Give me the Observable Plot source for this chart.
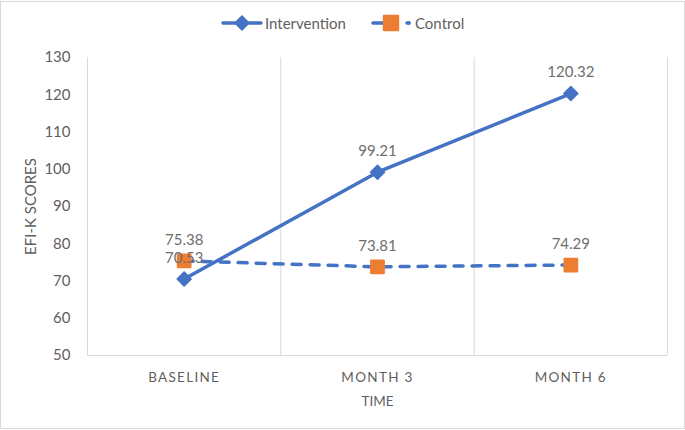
<!DOCTYPE html>
<html>
<head>
<meta charset="utf-8">
<script src="https://cdn.jsdelivr.net/npm/d3@7"></script>
<script src="https://cdn.jsdelivr.net/npm/@observablehq/plot@0.6"></script>
<style>
  html, body { margin: 0; padding: 0; background: #fff; }
  #chart { width: 685px; height: 430px; }
</style>
</head>
<body>
<div id="chart"></div>
<script>
const categories = ["BASELINE", "MONTH 3", "MONTH 6"];
const intervention = [70.53, 99.21, 120.32];
const control = [75.38, 73.81, 74.29];
const yTicks = [50, 60, 70, 80, 90, 100, 110, 120, 130];
const seriesNames = ["Intervention", "Control"];

const blue = "#4472C4";
const orange = "#ED7D31";
const grey = "#5f5f5f";
const labelGrey = "#6e6e6e";
const gridColor = "#d9d9d9";

const intRows = intervention.map((v, i) => ({i, v, s: seriesNames[0]}));
const ctlRows = control.map((v, i) => ({i, v, s: seriesNames[1]}));
const dividers = [-0.5, ...categories.map((_, i) => i + 0.5)];

const chart = Plot.plot({
  width: 685,
  height: 430,
  marginTop: 57,
  marginBottom: 75,
  marginLeft: 87,
  marginRight: 18,
  style: {fontFamily: "Lato, sans-serif", color: grey, background: "white", overflow: "visible"},
  x: {type: "linear", domain: [-0.5, categories.length - 0.5]},
  y: {domain: [50, 130]},
  marks: [
    Plot.ruleX(dividers, {x: d => d, y1: 50, y2: 130, stroke: gridColor, strokeWidth: 1}),
    Plot.ruleY([50], {stroke: gridColor, strokeWidth: 1}),
    Plot.axisY({ticks: yTicks, tickSize: 0, tickPadding: 17, fontSize: 15,
      label: "EFI-K SCORES", labelAnchor: "center", labelOffset: 62, labelArrow: "none"}),
    Plot.axisX({ticks: categories.map((_, i) => i), tickFormat: i => categories[i],
      tickSize: 0, tickPadding: 17, fontSize: 13.5,
      label: "TIME", labelAnchor: "center", labelOffset: 50, labelArrow: "none"}),
    Plot.line(ctlRows, {x: "i", y: "v", stroke: blue, strokeWidth: 3.5,
      strokeDasharray: "9,9", strokeLinecap: "round"}),
    Plot.line(intRows, {x: "i", y: "v", stroke: blue, strokeWidth: 3.5, strokeLinecap: "round"}),
    Plot.dot(intRows, {x: "i", y: "v", symbol: "diamond2", r: 6.3, fill: blue,
      stroke: blue, strokeWidth: 1.5, strokeLinejoin: "round"}),
    Plot.dot(ctlRows, {x: "i", y: "v", symbol: "square", r: 7.2, fill: orange,
      stroke: orange, strokeWidth: 2, strokeLinejoin: "round"}),
    Plot.text([...ctlRows, ...intRows], {x: "i", y: "v", text: d => d.v.toFixed(2),
      dy: -21, fill: labelGrey, fontSize: 15})
  ]
});

document.getElementById("chart").appendChild(chart);

// decoration: letter spacing for category labels, outer border, legend
const svg = d3.select(chart);
svg.selectAll("[aria-label='x-axis tick label'] text").attr("letter-spacing", "1.3px");

svg.append("rect")
  .attr("x", 0.5).attr("y", 1.5).attr("width", 684).attr("height", 427)
  .attr("fill", "none").attr("stroke", gridColor);

const lg = svg.append("g").attr("font-family", "Lato, sans-serif").attr("font-size", 15)
  .attr("fill", grey).attr("text-anchor", "start");
// Intervention
lg.append("line").attr("x1", 223).attr("x2", 261).attr("y1", 23).attr("y2", 23)
  .attr("stroke", blue).attr("stroke-width", 3.5).attr("stroke-linecap", "round");
lg.append("path").attr("d", d3.symbol(d3.symbolDiamond2, 6.3 * 6.3 * Math.PI)())
  .attr("transform", "translate(242,23)").attr("fill", blue)
  .attr("stroke", blue).attr("stroke-width", 1.5).attr("stroke-linejoin", "round");
lg.append("text").attr("x", 265).attr("y", 28.5).attr("text-anchor", "start").text(seriesNames[0]);
// Control
lg.append("line").attr("x1", 373).attr("x2", 409).attr("y1", 23).attr("y2", 23)
  .attr("stroke", blue).attr("stroke-width", 3.5).attr("stroke-linecap", "round")
  .attr("stroke-dasharray", "12,22");
lg.append("line").attr("x1", 409).attr("x2", 409).attr("y1", 23).attr("y2", 23)
  .attr("stroke", blue).attr("stroke-width", 3.5).attr("stroke-linecap", "round");
lg.append("path").attr("d", d3.symbol(d3.symbolSquare, 14.4 * 14.4)())
  .attr("transform", "translate(391,23)").attr("fill", orange)
  .attr("stroke", orange).attr("stroke-width", 2).attr("stroke-linejoin", "round");
lg.append("text").attr("x", 415).attr("y", 28.5).attr("text-anchor", "start").text(seriesNames[1]);
</script>
</body>
</html>
